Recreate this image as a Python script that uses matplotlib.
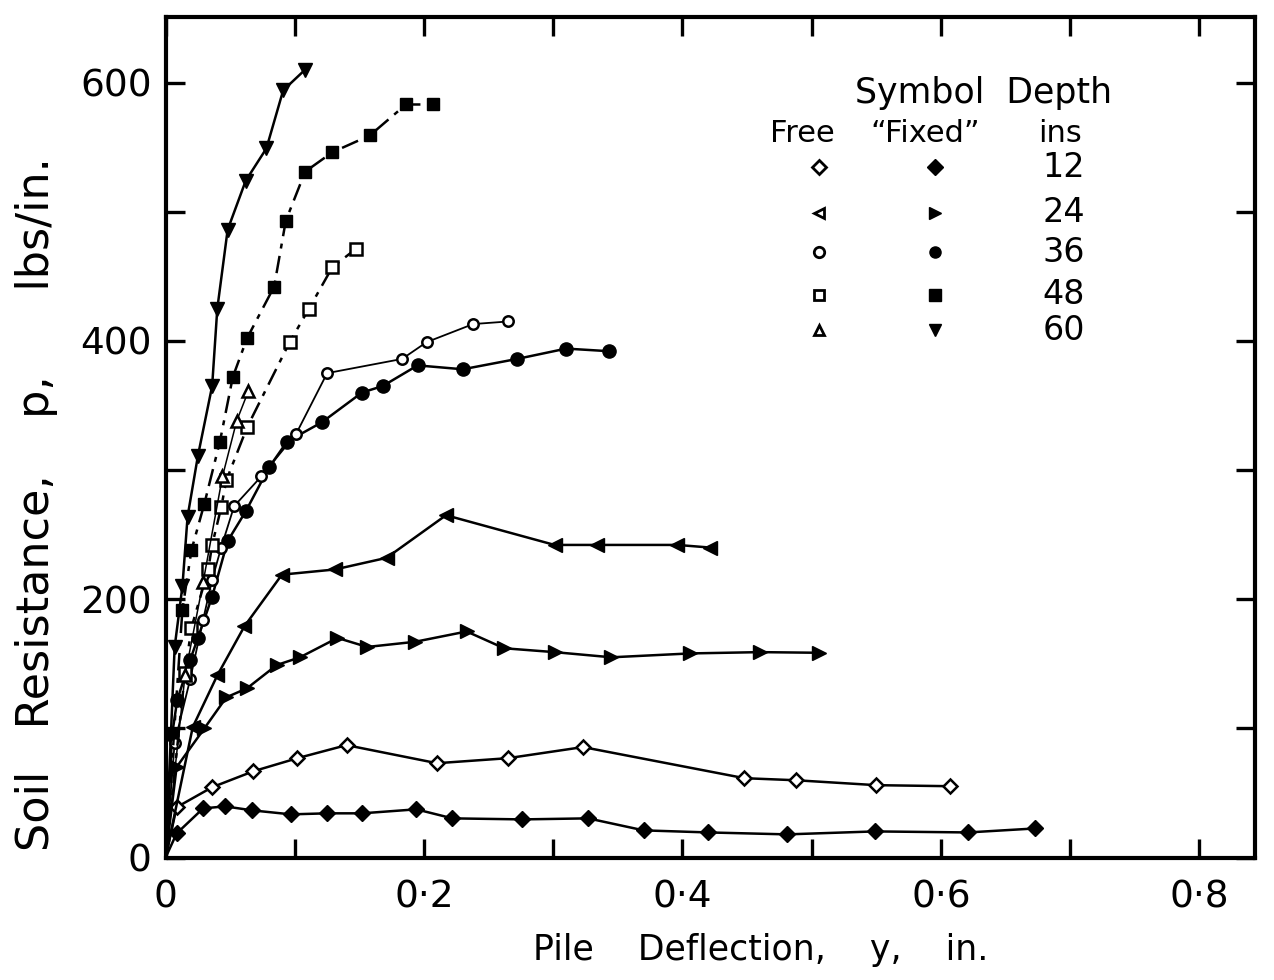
import matplotlib
matplotlib.use("Agg")
import matplotlib.pyplot as plt
from matplotlib.ticker import MultipleLocator, FuncFormatter

# ---- data (pile deflection y [in], soil resistance p [lbs/in]) ----
fixed12_x = [0, 0.0085, 0.029, 0.046, 0.067, 0.097, 0.125, 0.152, 0.194, 0.222, 0.276, 0.327, 0.370, 0.420, 0.481, 0.549, 0.621, 0.673]
fixed12_y = [0, 18.6, 38, 39.6, 36.5, 33.4, 34.2, 34.2, 37.3, 30.3, 29.5, 30.3, 21, 19.4, 17.9, 20.2, 19.4, 22.5]

free12_x = [0, 0.0085, 0.036, 0.068, 0.102, 0.140, 0.210, 0.265, 0.323, 0.448, 0.488, 0.550, 0.607]
free12_y = [0, 38.9, 54.4, 66.8, 76.9, 87, 73, 76.9, 85.5, 61.4, 59.8, 56, 55.2]

fixed24_x = [0, 0.0085, 0.030, 0.047, 0.063, 0.086, 0.104, 0.133, 0.156, 0.193, 0.233, 0.262, 0.301, 0.345, 0.406, 0.460, 0.506]
fixed24_y = [0, 70, 100, 124, 131, 149, 155, 170, 163, 167, 175, 162, 159, 155, 158, 159, 158.5]

free24_x = [0, 0.021, 0.040, 0.061, 0.090, 0.131, 0.171, 0.217, 0.301, 0.334, 0.396, 0.421]
free24_y = [0, 101, 141, 179, 219, 223, 232, 265, 242, 242, 242, 240]

fixed36_x = [0, 0.005, 0.009, 0.019, 0.025, 0.036, 0.048, 0.062, 0.080, 0.094, 0.121, 0.152, 0.168, 0.195, 0.230, 0.272, 0.310, 0.343]
fixed36_y = [0, 95, 122, 153, 170, 202, 245, 268, 302, 322, 337, 360, 365, 381, 378, 386, 394, 392]

free36_x = [0, 0.007, 0.019, 0.029, 0.036, 0.043, 0.053, 0.074, 0.101, 0.125, 0.183, 0.202, 0.238, 0.265]
free36_y = [0, 89, 138, 184, 215, 240, 272, 295, 328, 375, 386, 399, 413, 415]

fixed48_x = [0, 0.013, 0.020, 0.030, 0.042, 0.052, 0.063, 0.084, 0.093, 0.108, 0.129, 0.158, 0.186, 0.207]
fixed48_y = [0, 192, 238, 274, 322, 372, 402, 442, 493, 531, 546, 559, 583, 583]

free48_x = [0, 0.015, 0.020, 0.033, 0.036, 0.043, 0.047, 0.063, 0.096, 0.111, 0.129, 0.147]
free48_y = [0, 143, 178, 223, 242, 271, 292, 333, 399, 425, 457, 471]

fixed60_x = [0, 0.007, 0.013, 0.017, 0.025, 0.036, 0.040, 0.048, 0.062, 0.078, 0.091, 0.108]
fixed60_y = [0, 163, 210, 264, 311, 365, 425, 486, 524, 549, 594, 610]

free60_x = [0, 0.015, 0.029, 0.044, 0.055, 0.064]
free60_y = [0, 141, 213, 295, 338, 361]

depths = ["12", "24", "36", "48", "60"]
free_markers = ["D", "<", "o", "s", "^"]
fixed_markers = ["D", ">", "o", "s", "v"]

# ---- figure ----
plt.rcParams['font.family'] = ['DejaVu Sans']
fig = plt.figure(figsize=(12.74, 9.8), dpi=100)
ax = fig.add_axes([0.130, 0.125, 0.855, 0.858])

lw = 1.8

def fixed(x, y, m, ls="-", s=9):
    ax.plot(x, y, ls=ls, marker=m, ms=s, mfc="black", mec="black",
            markevery=slice(1, None), color="black", lw=lw)

def free(x, y, m, ls="-", s=8, lw_=lw):
    ax.plot(x, y, ls=ls, marker=m, ms=s, mfc="white", mec="black", mew=1.8,
            markevery=slice(1, None), color="black", lw=lw_)

dashdot = (0, (7, 3, 2, 3))

fixed(fixed12_x, fixed12_y, "D", s=8)
free(free12_x, free12_y, "D", s=7.5)
fixed(fixed24_x, fixed24_y, ">", s=10.5)
fixed(free24_x, free24_y, "<", s=10.5)
fixed(fixed36_x, fixed36_y, "o", s=9.5)
free(free36_x, free36_y, "o", s=7.5, lw_=1.3)
fixed(fixed48_x, fixed48_y, "s", ls=dashdot, s=8.5)
free(free48_x, free48_y, "s", ls=dashdot, s=8)
fixed(fixed60_x, fixed60_y, "v", s=10)
free(free60_x, free60_y, "^", s=9, lw_=1.1)

ax.set_xlim(0, 0.843)
ax.set_ylim(0, 651)

ax.xaxis.set_major_locator(MultipleLocator(0.1))
ax.yaxis.set_major_locator(MultipleLocator(100))

def xfmt(v, pos):
    r = round(v, 2)
    if abs(r) < 1e-9:
        return "0"
    if abs(round(r * 10) % 2) == 0:
        return ("%.1f" % r).replace(".", "\u00b7")
    return ""

def yfmt(v, pos):
    r = int(round(v))
    return str(r) if r % 200 == 0 else ""

ax.xaxis.set_major_formatter(FuncFormatter(xfmt))
ax.yaxis.set_major_formatter(FuncFormatter(yfmt))

ax.tick_params(direction="in", length=14, width=2.4, top=True, right=True,
               labelsize=27, pad=16)
ax.tick_params(axis="y", pad=10)
for s in ax.spines.values():
    s.set_linewidth(3)

fig.text(0.597, 0.031, "Pile    Deflection,    y,    in.", fontsize=25,
         ha="center", va="center")
fig.text(0.029, 0.486, "Soil   Resistance,    p,      lbs/in.", fontsize=32,
         ha="center", va="center", rotation=90)

# ---- legend drawn as in the original (top right) ----
T = ax.transAxes
ax.text(0.751, 0.909, "Symbol  Depth", transform=T, fontsize=25, ha="center", va="center")
ax.text(0.585, 0.861, "Free", transform=T, fontsize=22, ha="center", va="center")
ax.text(0.697, 0.861, "\u201cFixed\u201d", transform=T, fontsize=22, ha="center", va="center")
ax.text(0.821, 0.861, "ins", transform=T, fontsize=22, ha="center", va="center")
row_y = [0.821, 0.767, 0.720, 0.669, 0.627]
for d, mf, mx, yy in zip(depths, free_markers, fixed_markers, row_y):
    ax.plot([0.600], [yy], marker=mf, ms=7.5, mfc="white", mec="black", mew=2,
            transform=T, ls="none", clip_on=False)
    ax.plot([0.706], [yy], marker=mx, ms=8, mfc="black", mec="black",
            transform=T, ls="none", clip_on=False)
    ax.text(0.844, yy, d, transform=T, fontsize=24, ha="right", va="center")

fig.savefig("out.png", dpi=100)
